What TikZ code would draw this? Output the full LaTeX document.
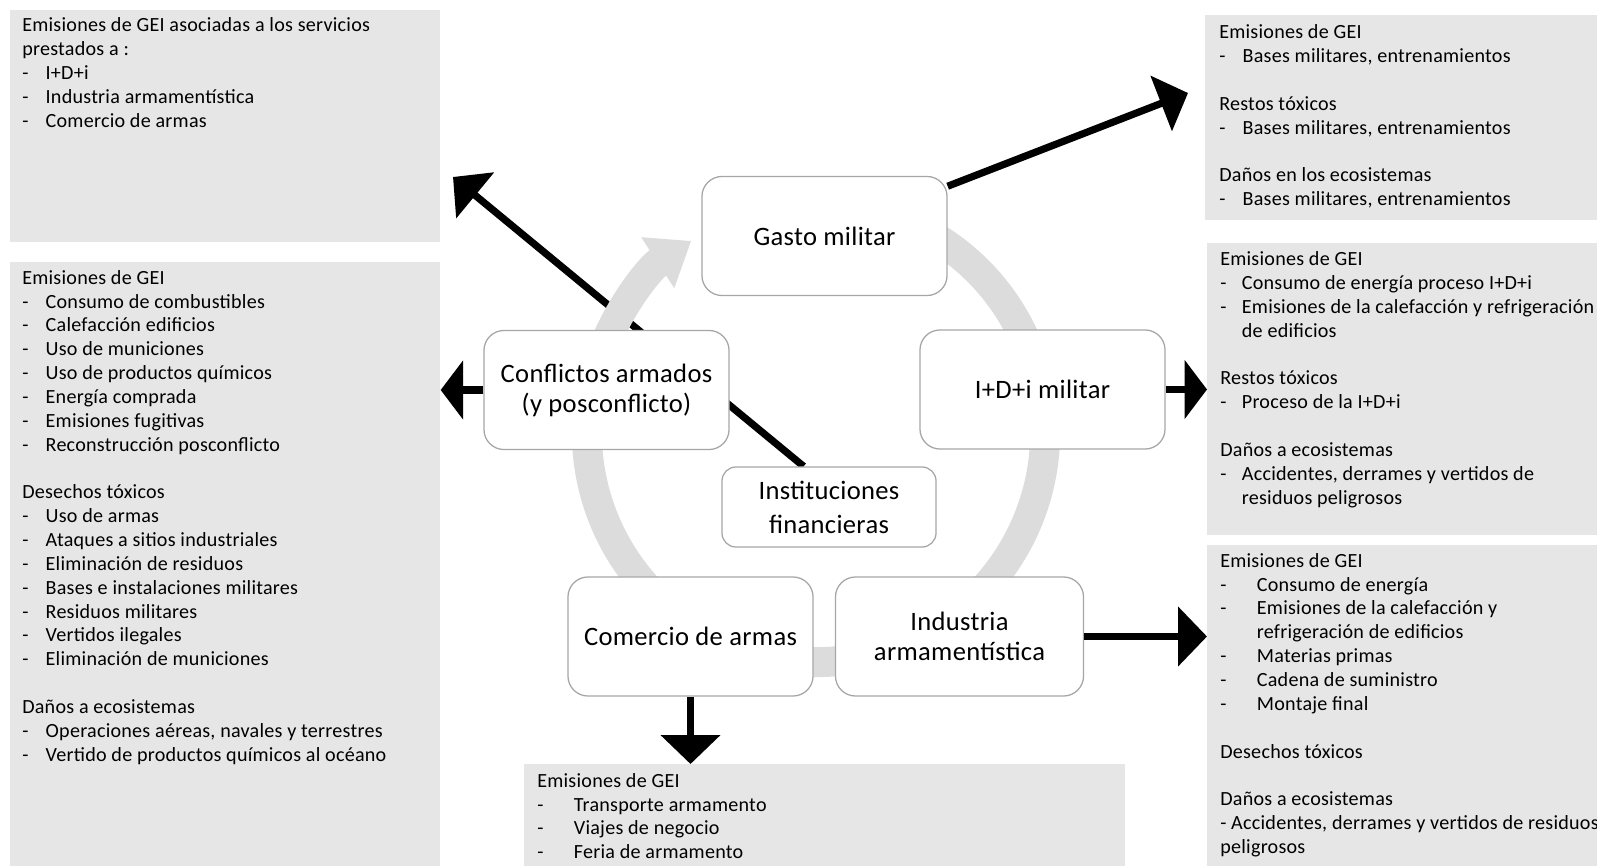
\documentclass[tikz,border=0pt]{standalone}
\usepackage{fontspec}
\setmainfont{Carlito}[LetterSpace=1.2]
\usetikzlibrary{arrows.meta}
\pgfdeclarelayer{background}
\pgfsetlayers{background,main}
\definecolor{boxgray}{HTML}{E7E6E6}
\definecolor{ringgray}{HTML}{DCDCDC}
\definecolor{edgegray}{HTML}{A6A6A6}
\newcommand{\itm}[2][0.585cm]{\makebox[#1][l]{-}#2}

\begin{document}
\begin{tikzpicture}[
    x=0.025cm, y=-0.025cm,
    >=Stealth,
    stage/.style={draw=edgegray, line width=0.9pt, fill=white, rounded corners=0.5cm,
                  align=center, inner sep=2pt, font=\fontsize{18.9}{21.3}\selectfont,
                  minimum width=6.125cm, minimum height=2.975cm},
    infobox/.style={fill=boxgray, anchor=north west, inner sep=0pt},
    infotext/.style={anchor=north west, inner sep=0pt, align=left,
                     font=\fontsize{14.3}{16.96}\selectfont},
    bigarrow/.style={line width=0.18cm, -{Triangle[length=0.72cm, width=1.45cm]}},
    shortarrow/.style={line width=0.18cm, -{Triangle[length=0.56cm, width=1.45cm]}},
    ring/.style={line width=0.75cm, draw=ringgray, -{Triangle[length=1cm, width=1.45cm]}}
  ]
    \useasboundingbox (0,0) rectangle (1597,866);

    \node[infobox, minimum width=10.75cm, minimum height=5.8cm]   (bTL) at (10,10)   {};
    \node[infobox, minimum width=10.75cm, minimum height=15.1cm]  (bL)  at (10,262)  {};
    \node[infobox, minimum width=9.8cm,   minimum height=5.125cm] (bTR) at (1205,15) {};
    \node[infobox, minimum width=9.75cm,  minimum height=7.3cm]   (bRM) at (1207,243) {};
    \node[infobox, minimum width=9.75cm,  minimum height=8.025cm] (bRB) at (1207,545) {};
    \node[infobox, minimum width=15.025cm, minimum height=2.55cm] (bB)  at (524,764) {};

    \node[stage] (gasto)     at (824.5,236)   {Gasto militar};
    \node[stage] (confl)     at (606.5,390)   {Conflictos armados\\(y posconflicto)};
    \node[stage] (idi)       at (1042.5,389.5) {I+D+i militar};
    \node[stage, minimum width=5.35cm, minimum height=2cm, rounded corners=0.35cm]
                 (inst)      at (829,507)     {Instituciones\\[3pt]financieras};
    \node[stage] (comercio)  at (690.5,636.5) {Comercio de armas};
    \node[stage, minimum width=6.2cm] (industria) at (959.5,636.5) {Industria\\armamentística};

    \coordinate (ringc) at (816,433);
    \coordinate (tipTL) at (453,177);
    \coordinate (tipTR) at (1188,93);

    \begin{pgfonlayer}{background}
      \draw[bigarrow] (inst.122) -- (tipTL);
      \draw[ring] ([shift={(70:5.725cm)}]ringc) arc[start angle=70, end angle=-237, radius=5.725cm];
    \end{pgfonlayer}

    \draw[bigarrow]   (gasto.22) -- (tipTR);
    \draw[shortarrow] (confl.west) -- (confl.west -| bL.east);
    \draw[shortarrow] (idi.east) -- (idi.east -| bRM.west);
    \draw[bigarrow]   (industria.east) -- (industria.east -| bRB.west);
    \draw[bigarrow]   (comercio.south) -- (comercio.south |- bB.north);

    \node[infotext] (tTL) at (22,17.5) {Emisiones de GEI asociadas a los servicios\\
      prestados a :\\
      \itm{I+D+i}\\
      \itm{Industria armamentística}\\
      \itm{Comercio de armas}};
    \node[infotext] (tL) at (22,270) {Emisiones de GEI\\
      \itm{Consumo de combustibles}\\
      \itm{Calefacción edificios}\\
      \itm{Uso de municiones}\\
      \itm{Uso de productos químicos}\\
      \itm{Energía comprada}\\
      \itm{Emisiones fugitivas}\\
      \itm{Reconstrucción posconflicto}\\
      \mbox{}\\
      Desechos tóxicos\\
      \itm{Uso de armas}\\
      \itm{Ataques a sitios industriales}\\
      \itm{Eliminación de residuos}\\
      \itm{Bases e instalaciones militares}\\
      \itm{Residuos militares}\\
      \itm{Vertidos ilegales}\\
      \itm{Eliminación de municiones}\\
      \mbox{}\\
      Daños a ecosistemas\\
      \itm{Operaciones aéreas, navales y terrestres}\\
      \itm{Vertido de productos químicos al océano}};
    \node[infotext] (tTR) at (1219,24.5) {Emisiones de GEI\\
      \itm{Bases militares, entrenamientos}\\
      \mbox{}\\
      Restos tóxicos\\
      \itm{Bases militares, entrenamientos}\\
      \mbox{}\\
      Daños en los ecosistemas\\
      \itm{Bases militares, entrenamientos}};
    \node[infotext] (tRM) at (1220,251.5) {Emisiones de GEI\\
      \itm[0.54cm]{Consumo de energía proceso I+D+i}\\
      \itm[0.54cm]{Emisiones de la calefacción y refrigeración}\\
      \hspace*{0.54cm}de edificios\\
      \mbox{}\\
      Restos tóxicos\\
      \itm[0.54cm]{Proceso de la I+D+i}\\
      \mbox{}\\
      Daños a ecosistemas\\
      \itm[0.54cm]{Accidentes, derrames y vertidos de}\\
      \hspace*{0.54cm}residuos peligrosos};
    \node[infotext] (tRB) at (1220,553) {Emisiones de GEI\\
      \itm[0.915cm]{Consumo de energía}\\
      \itm[0.915cm]{Emisiones de la calefacción y}\\
      \hspace*{0.915cm}refrigeración de edificios\\
      \itm[0.915cm]{Materias primas}\\
      \itm[0.915cm]{Cadena de suministro}\\
      \itm[0.915cm]{Montaje final}\\
      \mbox{}\\
      Desechos tóxicos\\
      \mbox{}\\
      Daños a ecosistemas\\
      - Accidentes, derrames y vertidos de residuos\\
      peligrosos};
    \node[infotext] (tB) at (537,773) {Emisiones de GEI\\
      \itm[0.915cm]{Transporte armamento}\\
      \itm[0.915cm]{Viajes de negocio}\\
      \itm[0.915cm]{Feria de armamento}};
\end{tikzpicture}
\end{document}
